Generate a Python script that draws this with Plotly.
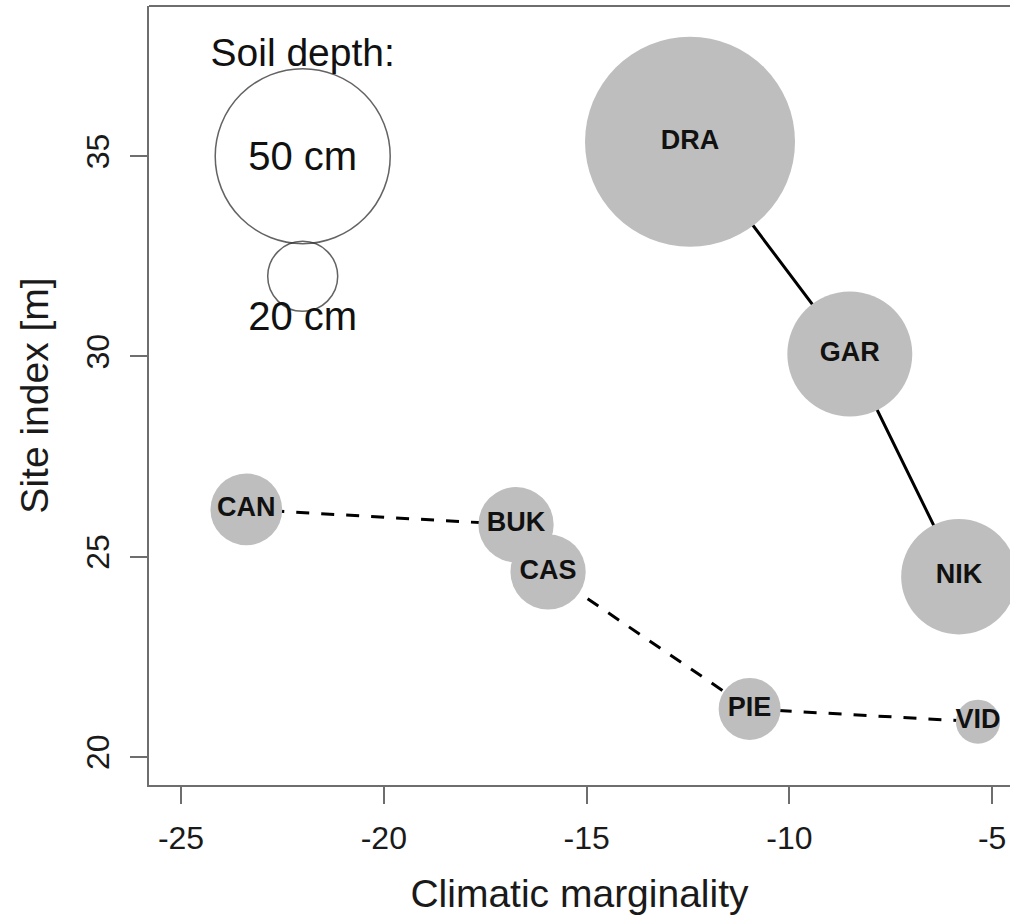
import plotly.graph_objects as go

# ---- data ----
sites = ["CAN", "BUK", "CAS", "PIE", "VID", "DRA", "GAR", "NIK"]
marginality = [-23.39, -16.74, -15.95, -10.98, -5.35, -12.45, -8.51, -5.82]
site_index = [26.18, 25.80, 24.62, 21.20, 20.88, 35.36, 30.06, 24.50]
soil_depth = [20.5, 21.5, 21.5, 17.7, 12.6, 60, 35.7, 33]

group_dashed = ["CAN", "BUK", "CAS", "PIE", "VID"]
group_solid = ["DRA", "GAR", "NIK"]

legend_depths = [50, 20]
legend_x = [-22, -22]
legend_y = [35, 32]
legend_labels = ["50 cm", "20 cm"]
legend_label_y = [34.9, 30.9]
legend_title = "Soil depth:"
legend_title_xy = (-22, 37.5)

x_ticks = [-25, -20, -15, -10, -5]
y_ticks = [20, 25, 30, 35]

PX_PER_CM = 3.5  # marker diameter in px per cm of soil depth
FONT = "Liberation Sans, Arial, sans-serif"
AXIS_COL = "#6e6e6e"

def pick(names, arr):
    return [arr[sites.index(n)] for n in names]

fig = go.Figure()

# connecting lines (under the circles)
fig.add_trace(go.Scatter(
    x=pick(group_dashed, marginality), y=pick(group_dashed, site_index),
    mode="lines", line=dict(color="black", width=3, dash="13px,12px"),
    hoverinfo="skip", showlegend=False))
fig.add_trace(go.Scatter(
    x=pick(group_solid, marginality), y=pick(group_solid, site_index),
    mode="lines", line=dict(color="black", width=3),
    hoverinfo="skip", showlegend=False))

# site circles with labels
fig.add_trace(go.Scatter(
    x=marginality, y=site_index, mode="markers+text",
    text=sites, textposition="middle center",
    textfont=dict(family=FONT, size=27, color="#111111", weight="bold"),
    marker=dict(size=[d * PX_PER_CM for d in soil_depth], color="#bebebe",
                line=dict(width=0), opacity=1),
    cliponaxis=True, showlegend=False))

# legend circles
fig.add_trace(go.Scatter(
    x=legend_x, y=legend_y, mode="markers",
    marker=dict(size=[d * PX_PER_CM for d in legend_depths], color="rgba(255,255,255,0)",
                line=dict(width=1.5, color="#222222")),
    showlegend=False, hoverinfo="skip"))
fig.add_trace(go.Scatter(
    x=legend_x, y=legend_label_y, mode="text", text=legend_labels,
    textposition="middle center",
    textfont=dict(family=FONT, size=40, color="#111111"),
    showlegend=False, hoverinfo="skip"))
fig.add_trace(go.Scatter(
    x=[legend_title_xy[0]], y=[legend_title_xy[1]], mode="text", text=[legend_title],
    textposition="middle center",
    textfont=dict(family=FONT, size=39, color="#111111"),
    showlegend=False, hoverinfo="skip"))

axis_common = dict(
    showgrid=False, zeroline=False, showline=True, linecolor=AXIS_COL, linewidth=2,
    ticks="outside", ticklen=17, tickwidth=2, tickcolor=AXIS_COL,
    tickfont=dict(family=FONT, size=32, color="#1a1a1a"),
)

fig.update_layout(
    width=1010, height=917,
    margin=dict(l=149, r=0, t=6, b=132),
    plot_bgcolor="white", paper_bgcolor="white",
    xaxis=dict(range=[-25.79, -4.56], tickvals=x_ticks, ticktext=[str(v) for v in x_ticks],
               ticklabelstandoff=7,
               title=dict(text="Climatic marginality", font=dict(family=FONT, size=39, color="#1a1a1a"),
                          standoff=24),
               **axis_common),
    yaxis=dict(range=[19.3, 38.75], tickvals=y_ticks, ticktext=[str(v) for v in y_ticks],
               tickangle=-90, ticklabelstandoff=8,
               title=dict(text="Site index [m]", font=dict(family=FONT, size=39, color="#1a1a1a"),
                          standoff=20),
               **axis_common),
    shapes=[dict(type="line", xref="paper", yref="paper", x0=0, x1=1, y0=1, y1=1,
                 line=dict(color=AXIS_COL, width=2))],
)

fig.write_html("out.html", config={"displayModeBar": False})
